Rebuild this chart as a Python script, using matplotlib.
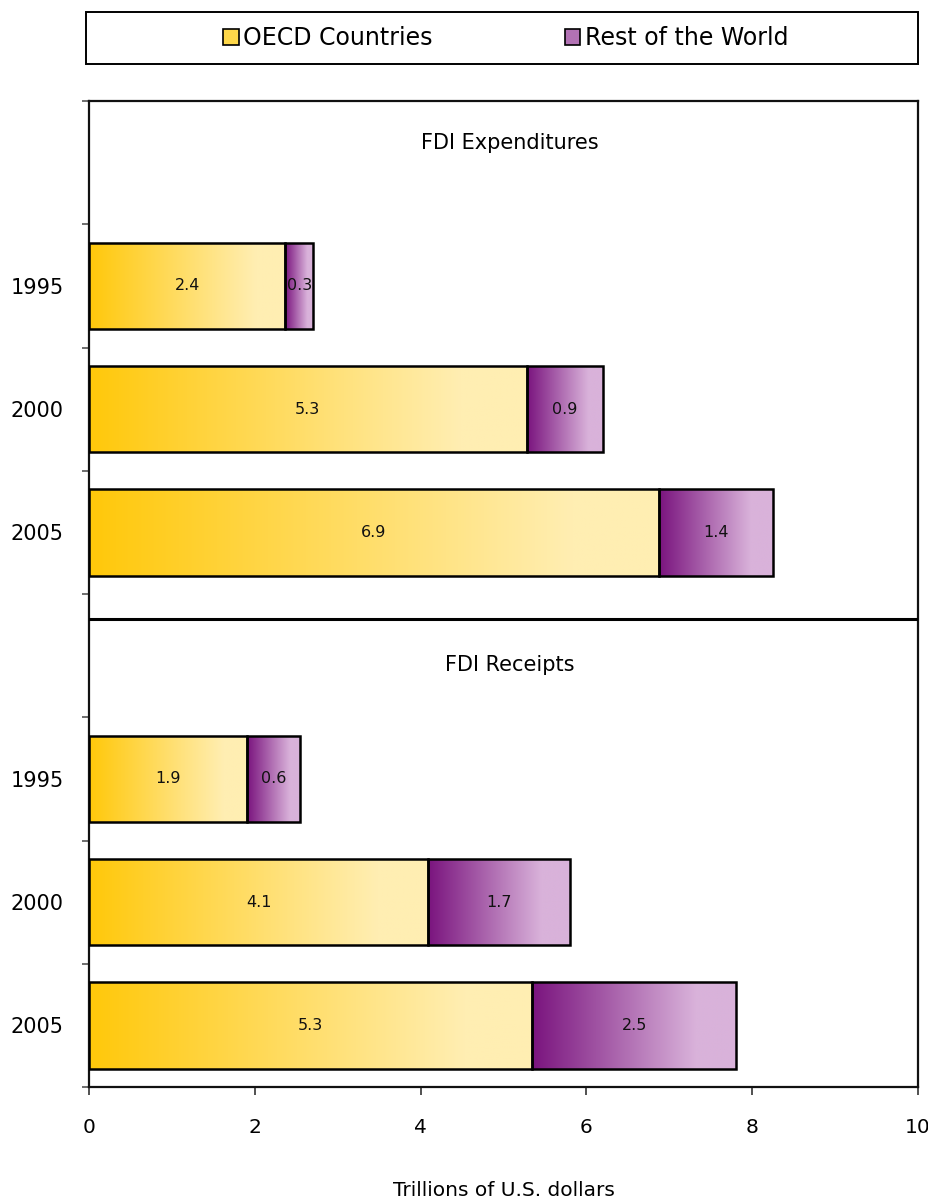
import numpy as np
import matplotlib
matplotlib.use("Agg")
import matplotlib.pyplot as plt
from matplotlib.patches import Patch, Rectangle
from matplotlib.colors import to_rgb

# ---- data ----
years = ["1995", "2000", "2005"]
exp_oecd = [2.37, 5.28, 6.87]
exp_row = [0.33, 0.92, 1.38]
rec_oecd = [1.91, 4.09, 5.34]
rec_row = [0.64, 1.71, 2.47]
panel_titles = ["FDI Expenditures", "FDI Receipts"]
series_names = ["OECD Countries", "Rest of the World"]
xticks = [0, 2, 4, 6, 8, 10]
xlabel = "Trillions of U.S. dollars"

# ---- style ----
plt.rcParams['font.family'] = ['DejaVu Sans']
OECD_DARK, OECD_LIGHT = "#FFC80A", "#FFEEB2"
ROW_DARK, ROW_LIGHT = "#7A147E", "#D9B2DA"

W, H = 929, 1203
fig = plt.figure(figsize=(W / 100, H / 100), dpi=100)
ax = fig.add_axes([89 / W, 1 - 1087 / H, (918 - 89) / W, (1087 - 101) / H])

exp_pos = [1, 2, 3]
rec_pos = [5, 6, 7]
bar_h = 0.7


def grad_fill(patch, c0, c1, reach):
    x0, y0 = patch.get_x(), patch.get_y()
    w, h = patch.get_width(), patch.get_height()
    n = 256
    t = np.clip(np.linspace(0, 1, n) / reach, 0, 1)
    a, b = np.array(to_rgb(c0)), np.array(to_rgb(c1))
    img = (a[None, :] * (1 - t[:, None]) + b[None, :] * t[:, None])[None, :, :]
    im = ax.imshow(img, extent=(x0, x0 + w, y0, y0 + h), aspect='auto',
                   interpolation='bilinear', zorder=2, origin='lower')
    im.set_clip_path(patch)


for pos, oecd, row in [(exp_pos, exp_oecd, exp_row), (rec_pos, rec_oecd, rec_row)]:
    b1 = ax.barh(pos, oecd, height=bar_h, facecolor='none', edgecolor='black',
                 linewidth=1.8, zorder=3)
    b2 = ax.barh(pos, row, left=oecd, height=bar_h, facecolor='none',
                 edgecolor='black', linewidth=1.8, zorder=3)
    for p in b1:
        grad_fill(p, OECD_DARK, OECD_LIGHT, 0.85)
    for p in b2:
        grad_fill(p, ROW_DARK, ROW_LIGHT, 0.8)
    for p, v in zip(b1, oecd):
        ax.text(p.get_x() + p.get_width() / 2, p.get_y() + p.get_height() / 2,
                f"{v:.1f}", ha='center', va='center', fontsize=11.5, color='#111', zorder=4)
    for p, v in zip(b2, row):
        ax.text(p.get_x() + p.get_width() / 2, p.get_y() + p.get_height() / 2,
                f"{v:.1f}", ha='center', va='center', fontsize=11.5, color='#111', zorder=4)

ax.set_xlim(0, 10)
ax.set_ylim(7.5, -0.5)

# separator between the two panels
ax.axhline(3.7, color='black', linewidth=2.2, zorder=3)

# panel titles
ax.text(5.08, -0.16, panel_titles[0], ha='center', va='center', fontsize=15)
ax.text(5.08, 4.08, panel_titles[1], ha='center', va='center', fontsize=15)

# y ticks: marks at boundaries, labels at year rows
ax.set_yticks(np.arange(-0.5, 8.0, 1.0))
ax.set_yticklabels([])
ax.set_yticks(exp_pos + rec_pos, minor=True)
ax.set_yticklabels(years + years, minor=True)
ax.tick_params(axis='y', which='major', direction='out', length=5, width=1.2, color='#555')
ax.tick_params(axis='y', which='minor', length=0, pad=18, labelsize=15)

ax.set_xticks(xticks)
ax.set_xticklabels([str(v) for v in xticks])
ax.tick_params(axis='x', direction='out', length=6, width=1.2, color='#333', pad=16, labelsize=14.5)
ax.set_xlabel(xlabel, fontsize=14.5, labelpad=32)

for s in ax.spines.values():
    s.set_linewidth(1.6)
    s.set_color('#111')

# legend box
fig.patches.append(Rectangle((86 / W, 1 - 64 / H), 832 / W, 52 / H, transform=fig.transFigure,
                             facecolor='white', edgecolor='black', linewidth=1.4))
handles = [Patch(facecolor="#FFD84A", edgecolor='black', linewidth=1.2),
           Patch(facecolor="#B272B4", edgecolor='black', linewidth=1.2)]
fig.legend(handles, series_names, loc='center', bbox_to_anchor=(506 / W, 1 - 38 / H),
           ncol=2, frameon=False, fontsize=17, handlelength=0.65, handleheight=0.65,
           handletextpad=0.2, columnspacing=5.6)

fig.savefig("out.png", dpi=100)
